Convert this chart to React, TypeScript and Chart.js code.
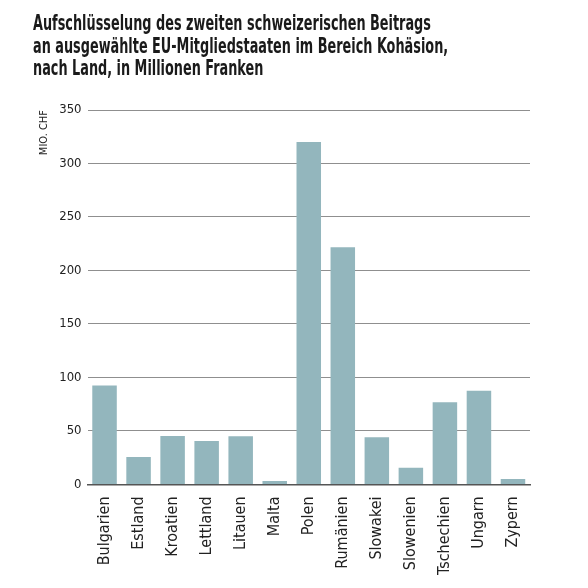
import React, { useEffect, useRef } from 'react';
import { Chart, registerables } from 'chart.js';

Chart.register(...registerables);

const titleLines = [
    'Aufschlüsselung des zweiten schweizerischen Beitrags',
    'an ausgewählte EU-Mitgliedstaaten im Bereich Kohäsion,',
    'nach Land, in Millionen Franken'
];
const countries = [
    'Bulgarien', 'Estland', 'Kroatien', 'Lettland', 'Litauen', 'Malta', 'Polen',
    'Rumänien', 'Slowakei', 'Slowenien', 'Tschechien', 'Ungarn', 'Zypern'
];
const amounts = [92.5, 25.6, 45.3, 40.6, 45, 3.1, 320, 221.7, 44.1, 15.6, 76.9, 87.5, 5];
const yAxisLabel = 'MIO. CHF';

const FONT = "'DejaVu Sans Condensed', 'DejaVu Sans', sans-serif";

const App = () => {
    const chartRef = useRef<HTMLCanvasElement>(null);
    const chartInstance = useRef<Chart | null>(null);

    useEffect(() => {
        if (chartRef.current) {
            const ctx = chartRef.current.getContext('2d');
            if (ctx) {
                if (chartInstance.current) {
                    chartInstance.current.destroy();
                }
                chartInstance.current = new Chart(ctx, {
                    type: 'bar',
                    data: {
                        labels: countries,
                        datasets: [
                            {
                                label: 'Mio. CHF',
                                data: amounts,
                                backgroundColor: '#93b6bd',
                                borderWidth: 0,
                                categoryPercentage: 0.72,
                                barPercentage: 1
                            }
                        ]
                    },
                    options: {
                        animation: false,
                        responsive: false,
                        maintainAspectRatio: false,
                        layout: {
                            padding: { top: 110, left: 38, right: 58, bottom: 9 }
                        },
                        plugins: {
                            legend: { display: false },
                            tooltip: { enabled: false }
                        },
                        scales: {
                            y: {
                                min: 0,
                                max: 350,
                                ticks: {
                                    stepSize: 50,
                                    padding: 6,
                                    color: '#222',
                                    font: { family: FONT, size: 13 }
                                },
                                grid: {
                                    color: '#8f8f8f',
                                    lineWidth: 1,
                                    drawTicks: false
                                },
                                border: { display: false },
                                title: {
                                    display: true,
                                    text: yAxisLabel,
                                    align: 'end',
                                    color: '#222',
                                    font: { family: FONT, size: 11 },
                                    padding: { top: 0, bottom: 2 }
                                }
                            },
                            x: {
                                grid: { display: false },
                                border: { display: true, color: '#555', width: 1.5 },
                                ticks: {
                                    minRotation: 90,
                                    maxRotation: 90,
                                    padding: 4,
                                    color: '#222',
                                    font: { family: FONT, size: 16 }
                                }
                            }
                        }
                    }
                });
            }
        }

        return () => {
            if (chartInstance.current) {
                chartInstance.current.destroy();
                chartInstance.current = null;
            }
        };
    }, []);

    return (
        <div style={{ position: 'fixed', left: 0, top: 0, width: 588, height: 588, background: '#fff' }}>
            <canvas ref={chartRef} width={588} height={588} style={{ position: 'absolute', left: 0, top: 0 }}></canvas>
            <div
                style={{
                    position: 'absolute',
                    left: 33,
                    top: 12,
                    fontFamily: FONT,
                    fontWeight: 'bold',
                    fontSize: 21,
                    lineHeight: '22.5px',
                    color: '#1a1a1a',
                    whiteSpace: 'nowrap',
                    transform: 'scaleX(0.68)',
                    transformOrigin: 'left top'
                }}
            >
                {titleLines.map((line) => (
                    <div key={line}>{line}</div>
                ))}
            </div>
        </div>
    );
};

export default App;
